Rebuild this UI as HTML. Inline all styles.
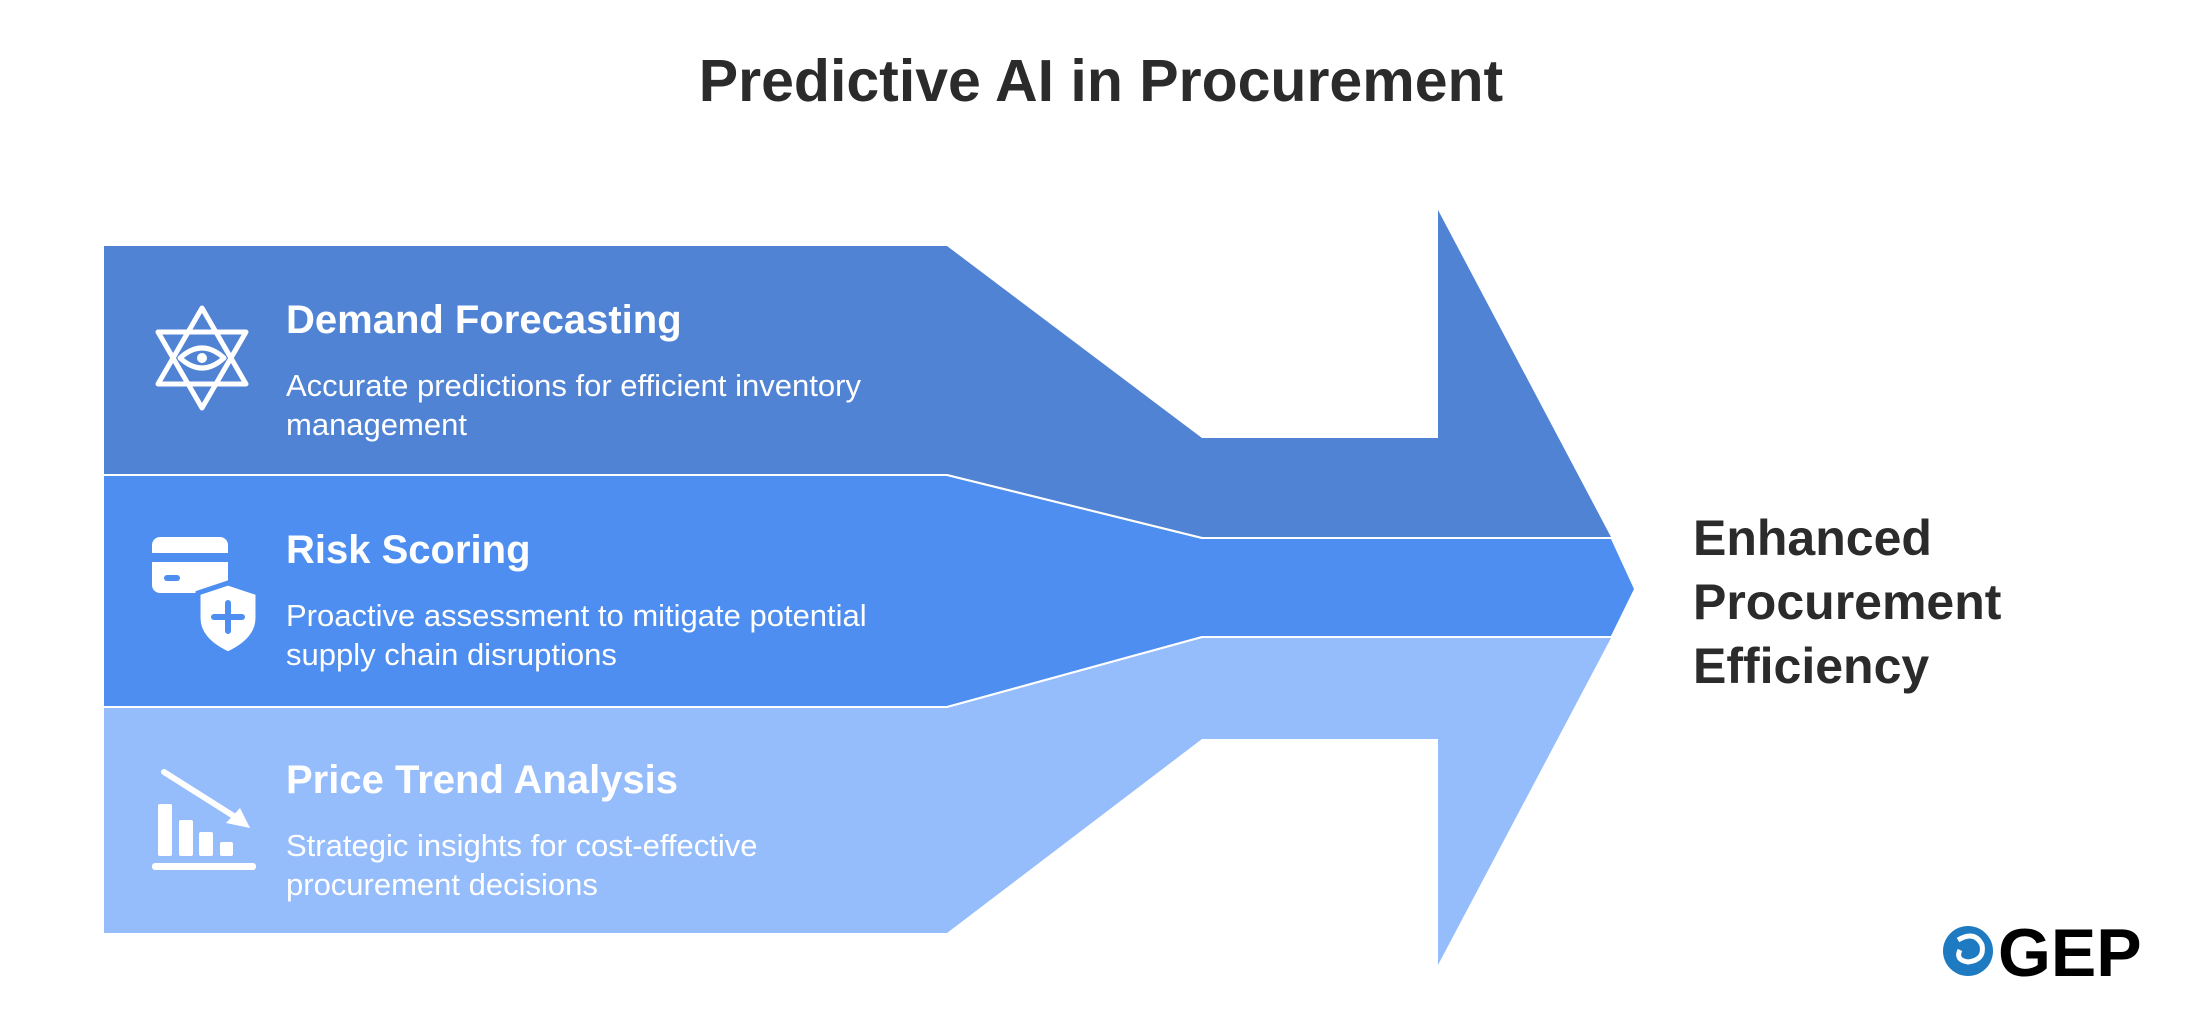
<!DOCTYPE html>
<html><head><meta charset="utf-8"><style>
html,body{margin:0;padding:0;background:#fff;}
svg{display:block;}
text{font-family:"Liberation Sans",sans-serif;}
</style></head><body>
<svg width="2200" height="1018" viewBox="0 0 2200 1018" xmlns="http://www.w3.org/2000/svg">
<text x="1101" y="101" text-anchor="middle" font-size="59" font-weight="bold" fill="#2b2b2b">Predictive AI in Procurement</text>
<polygon points="104,246 947,246 1202,438 1438,438 1438,210 1611,537 1202,537 947,474 104,474" fill="#5083d4"/>
<polygon points="104,476 947,476 1202,539 1611,539 1634,589 1611,636 1202,636 947,706 104,706" fill="#4d8ef0"/>
<polygon points="104,708 947,708 1202,638 1611,638 1438,965 1438,739 1202,739 947,933 104,933" fill="#95bcfb"/>
<polyline points="104,475 947,475 1202,538 1611,538" fill="none" stroke="#fff" stroke-width="2"/>
<polyline points="104,707 947,707 1202,637 1611,637" fill="none" stroke="#fff" stroke-width="2"/>
<g fill="#fff">
<text x="286" y="333" font-size="40" font-weight="bold">Demand Forecasting</text>
<text x="286" y="396" font-size="31">Accurate predictions for efficient inventory</text>
<text x="286" y="435" font-size="31">management</text>
<text x="286" y="563" font-size="40" font-weight="bold">Risk Scoring</text>
<text x="286" y="626" font-size="31">Proactive assessment to mitigate potential</text>
<text x="286" y="665" font-size="31">supply chain disruptions</text>
<text x="286" y="793" font-size="40" font-weight="bold">Price Trend Analysis</text>
<text x="286" y="856" font-size="31">Strategic insights for cost-effective</text>
<text x="286" y="895" font-size="31">procurement decisions</text>
</g>
<g fill="#2b2b2b" font-size="50" font-weight="bold">
<text x="1693" y="555">Enhanced</text>
<text x="1693" y="619">Procurement</text>
<text x="1693" y="683">Efficiency</text>
</g>
<g fill="none" stroke="#fff" stroke-width="5" stroke-linejoin="round">
<polygon points="202,308 246,384 158,384"/>
<polygon points="202,408 246,332 158,332"/>
<path d="M180,358 Q202,338 224,358 Q202,378 180,358Z"/>
</g>
<circle cx="202" cy="358" r="5" fill="#fff"/>
<rect x="152" y="537" width="76" height="56" rx="8" fill="#fff"/>
<rect x="152" y="553" width="76" height="9" fill="#4d8ef0"/>
<rect x="164" y="575" width="16" height="6" rx="3" fill="#4d8ef0"/>
<path d="M198,593 L228,583 L258,593 L258,618 Q258,640 228,654 Q198,640 198,618Z" fill="#fff" stroke="#4d8ef0" stroke-width="5"/>
<path d="M228,603 V631 M214,617 H242" stroke="#4d8ef0" stroke-width="6" stroke-linecap="round"/>
<g fill="#fff">
<rect x="158" y="804" width="14" height="52" rx="2"/>
<rect x="179" y="820" width="14" height="36" rx="2"/>
<rect x="199" y="832" width="14" height="24" rx="2"/>
<rect x="220" y="842" width="13" height="14" rx="2"/>
<rect x="152" y="863" width="104" height="7" rx="3"/>
</g>
<line x1="164" y1="772" x2="240" y2="820" stroke="#fff" stroke-width="6" stroke-linecap="round"/>
<polygon points="250,828 226,823 240,808" fill="#fff"/>
<circle cx="1968" cy="951" r="25" fill="#1f7bc1"/>
<path d="M1958,940 Q1975,930 1982,945 Q1985,960 1968,962 Q1955,960 1960,950" fill="none" stroke="#fff" stroke-width="5"/>
<text x="1998" y="976" font-size="68" font-weight="bold" fill="#000">GEP</text>
</svg>
</body></html>
